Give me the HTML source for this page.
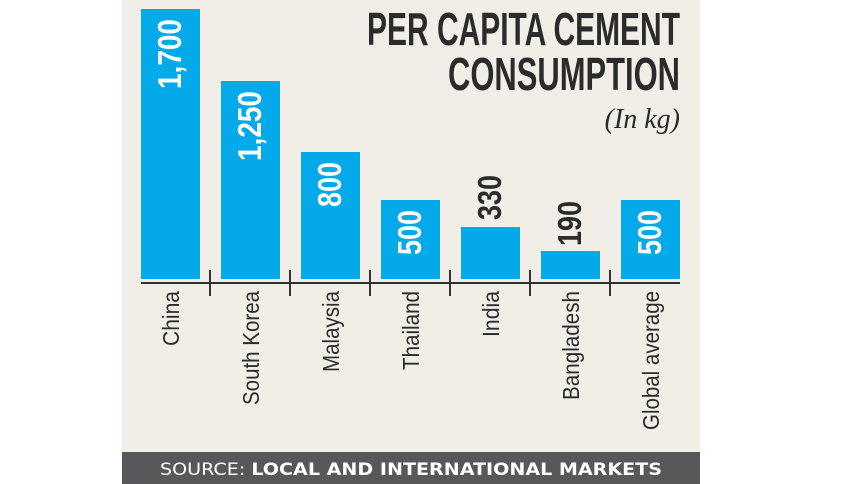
<!DOCTYPE html>
<html><head><meta charset="utf-8"><style>
html,body{margin:0;padding:0;background:#fff;}
svg{display:block;}
</style></head><body>
<svg width="860" height="484" xmlns="http://www.w3.org/2000/svg">
<rect x="122" y="0" width="578" height="484" fill="#f1eee7"/>
<rect x="122" y="452" width="578" height="32" fill="#58585a"/>
<text x="160" y="475" font-family="'DejaVu Sans', sans-serif" font-size="17" fill="#fff" textLength="502" lengthAdjust="spacingAndGlyphs">SOURCE: <tspan font-weight="bold">LOCAL AND INTERNATIONAL MARKETS</tspan></text>
<g font-family="'Liberation Sans Narrow','Liberation Sans',sans-serif" font-weight="bold" fill="#2b2b2b">
<text x="680" y="45" text-anchor="end" font-size="46" textLength="313" lengthAdjust="spacingAndGlyphs">PER CAPITA CEMENT</text>
<text x="680" y="90" text-anchor="end" font-size="46" textLength="232" lengthAdjust="spacingAndGlyphs">CONSUMPTION</text>
</g>
<text x="680" y="128" text-anchor="end" font-family="'Liberation Serif',serif" font-style="italic" font-size="28" fill="#2b2b2b">(In kg)</text>
<g fill="#03a9e8">
<rect x="141" y="9" width="59" height="270"/>
<rect x="221" y="81" width="59" height="198"/>
<rect x="301" y="152" width="59" height="127"/>
<rect x="381" y="200" width="59" height="79"/>
<rect x="461" y="227" width="59" height="52"/>
<rect x="541" y="251" width="59" height="28"/>
<rect x="621" y="200" width="59" height="79"/>
</g>
<g stroke="#333" stroke-width="2">
<line x1="141" y1="283" x2="680" y2="283"/>
<line x1="210" y1="270" x2="210" y2="296"/>
<line x1="290" y1="270" x2="290" y2="296"/>
<line x1="370" y1="270" x2="370" y2="296"/>
<line x1="450" y1="270" x2="450" y2="296"/>
<line x1="530" y1="270" x2="530" y2="296"/>
<line x1="610" y1="270" x2="610" y2="296"/>
</g>
<g font-family="'Liberation Sans Narrow','Liberation Sans',sans-serif" font-weight="bold" font-size="33">
<text transform="translate(181,89) rotate(-90)" fill="#fff" textLength="70" lengthAdjust="spacingAndGlyphs">1,700</text>
<text transform="translate(261,161) rotate(-90)" fill="#fff" textLength="70" lengthAdjust="spacingAndGlyphs">1,250</text>
<text transform="translate(341,207) rotate(-90)" fill="#fff" textLength="45" lengthAdjust="spacingAndGlyphs">800</text>
<text transform="translate(421,255) rotate(-90)" fill="#fff" textLength="45" lengthAdjust="spacingAndGlyphs">500</text>
<text transform="translate(501,220) rotate(-90)" fill="#2b2b2b" textLength="45" lengthAdjust="spacingAndGlyphs">330</text>
<text transform="translate(581,246) rotate(-90)" fill="#2b2b2b" textLength="45" lengthAdjust="spacingAndGlyphs">190</text>
<text transform="translate(661,255) rotate(-90)" fill="#fff" textLength="45" lengthAdjust="spacingAndGlyphs">500</text>
</g>
<g font-family="'Liberation Sans Narrow','Liberation Sans',sans-serif" font-size="23" fill="#2b2b2b" text-anchor="end">
<text transform="translate(179,291) rotate(-90)" textLength="55" lengthAdjust="spacingAndGlyphs">China</text>
<text transform="translate(259,291) rotate(-90)" textLength="114" lengthAdjust="spacingAndGlyphs">South Korea</text>
<text transform="translate(339,291) rotate(-90)" textLength="81" lengthAdjust="spacingAndGlyphs">Malaysia</text>
<text transform="translate(419,291) rotate(-90)" textLength="79" lengthAdjust="spacingAndGlyphs">Thailand</text>
<text transform="translate(499,291) rotate(-90)" textLength="46" lengthAdjust="spacingAndGlyphs">India</text>
<text transform="translate(579,291) rotate(-90)" textLength="109" lengthAdjust="spacingAndGlyphs">Bangladesh</text>
<text transform="translate(659,291) rotate(-90)" textLength="139" lengthAdjust="spacingAndGlyphs">Global average</text>
</g>
</svg>
</body></html>
